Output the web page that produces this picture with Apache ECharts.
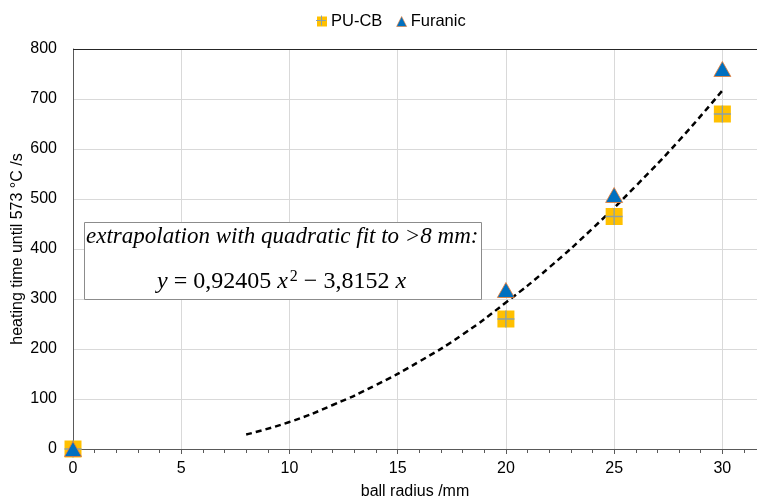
<!DOCTYPE html>
<html>
<head>
<meta charset="utf-8">
<script src="https://cdn.jsdelivr.net/npm/echarts@6/dist/echarts.min.js"></script>
<style>html,body{margin:0;padding:0;background:#fff}#c{width:757px;height:499px}</style>
</head>
<body>
<div id="c"></div>
<script>
const xTicks = [0, 5, 10, 15, 20, 25, 30];
const yTicks = [0, 100, 200, 300, 400, 500, 600, 700, 800];
const radius = [0, 20, 25, 30];
const puCB = [0, 260, 465, 670];
const furanic = [0, 318, 508, 760];
const fitX = [8, 10, 12, 14, 16, 18, 20, 22, 24, 26, 28, 30];
const fitY = [29, 54, 88, 128, 175, 229, 293, 363, 441, 526, 617, 717];

const chart = echarts.init(document.getElementById('c'));
const crossPath = 'path://M0,4.6H10V5.4H0Z M4.6,0H5.4V10H4.6Z';
const pairs = (xs, ys) => xs.map((x, i) => [x, ys[i]]);

chart.setOption({
  animation: false,
  textStyle: { fontFamily: 'Liberation Sans, Arial, sans-serif' },
  legend: {
    top: 8, left: 312,
    itemWidth: 10, itemHeight: 10, itemGap: 14,
    textStyle: { fontSize: 16.5, color: '#000', fontFamily: 'Liberation Sans', padding: [0, 0, 0, -1] },
    data: [
      { name: 'PU-CB', icon: 'rect' },
      { name: 'Furanic', icon: 'triangle', itemStyle: { borderWidth: 0.6 } }
    ]
  },
  grid: { left: 73, top: 49, right: 0, bottom: 50, containLabel: false, outerBoundsMode: 'none' },
  xAxis: {
    type: 'value', min: 0, max: 31.6, interval: 5,
    name: 'ball radius /mm', nameLocation: 'middle', nameGap: 35, nameMoveOverlap: false,
    nameTextStyle: { fontSize: 16, color: '#000' },
    axisLine: { onZero: false, lineStyle: { color: '#595959', width: 1 } },
    axisTick: { show: true, length: 5, inside: false, lineStyle: { color: '#595959' } },
    minorTick: { show: true, splitNumber: 5, length: 4, lineStyle: { color: '#595959' } },
    axisLabel: { fontSize: 16, color: '#000', margin: 12, customValues: xTicks, formatter: v => String(v) },
    splitLine: { show: true, lineStyle: { color: '#d9d9d9' } }
  },
  yAxis: {
    type: 'value', min: 0, max: 800, interval: 100,
    name: 'heating time until 573 °C /s', nameLocation: 'middle', nameGap: 47, nameMoveOverlap: false,
    nameTextStyle: { fontSize: 16, color: '#000' },
    axisLine: { show: true, lineStyle: { color: '#595959', width: 1 } },
    axisTick: { show: false },
    axisLabel: { fontSize: 16, color: '#000', margin: 16, customValues: yTicks, formatter: v => String(v) },
    splitLine: { show: true, lineStyle: { color: '#d9d9d9' } }
  },
  graphic: [
    { type: 'line', silent: true, z: 5, shape: { x1: 73, y1: 49.5, x2: 757, y2: 49.5 }, style: { stroke: '#262626', lineWidth: 1 } },
    { type: 'line', silent: true, z: 20, shape: { x1: 316, y1: 20.5, x2: 326, y2: 20.5 }, style: { stroke: '#8aa0a8', lineWidth: 1 } },
    { type: 'line', silent: true, z: 20, shape: { x1: 321.5, y1: 15.5, x2: 321.5, y2: 25.5 }, style: { stroke: '#8aa0a8', lineWidth: 1 } },
    {
      type: 'rect', z: 10, shape: { x: 84.5, y: 222.5, width: 397, height: 77 },
      style: { fill: '#fff', stroke: '#8c8c8c', lineWidth: 1 }
    },
    {
      type: 'text', z: 11, left: 86, top: 225,
      style: {
        text: 'extrapolation with quadratic fit to >8 mm:',
        font: 'italic 23px "Liberation Serif", "DejaVu Serif", serif', fill: '#000'
      }
    },
    {
      type: 'text', z: 11, left: 157, top: 269,
      style: {
        text: '{i|y} = 0,92405 {i|x}{s|2} − 3,8152 {i|x}',
        font: '24px "Liberation Serif", "DejaVu Serif", serif', fill: '#000',
        rich: {
          i: { font: 'italic 24px "Liberation Serif", serif', fill: '#000' },
          s: { font: '16px "Liberation Serif", serif', fill: '#000', verticalAlign: 'top', padding: [0, 0, 10, 2] }
        }
      }
    }
  ],
  series: [
    {
      name: 'fit', type: 'line', data: pairs(fitX, fitY), smooth: true, showSymbol: false,
      symbol: 'none', lineStyle: { color: '#000', width: 2.5, type: [6, 4] }, z: 3, silent: true
    },
    {
      name: 'PU-CB', type: 'scatter', data: pairs(radius, puCB), symbol: 'rect', symbolSize: 17,
      itemStyle: { color: '#FFC000', opacity: 1 }, clip: false, z: 4
    },
    {
      name: 'PU-CB', type: 'scatter', data: pairs(radius, puCB), symbol: crossPath, symbolSize: 17,
      itemStyle: { color: '#8aa0a8', opacity: 1 }, clip: false, z: 5, silent: true
    },
    {
      name: 'Furanic', type: 'scatter', data: pairs(radius, furanic), symbol: 'triangle', symbolSize: [17, 15],
      itemStyle: { color: '#0070C0', borderColor: '#ED7D31', borderWidth: 0.8, opacity: 1 }, clip: false, z: 6
    }
  ]
});
</script>
</body>
</html>
